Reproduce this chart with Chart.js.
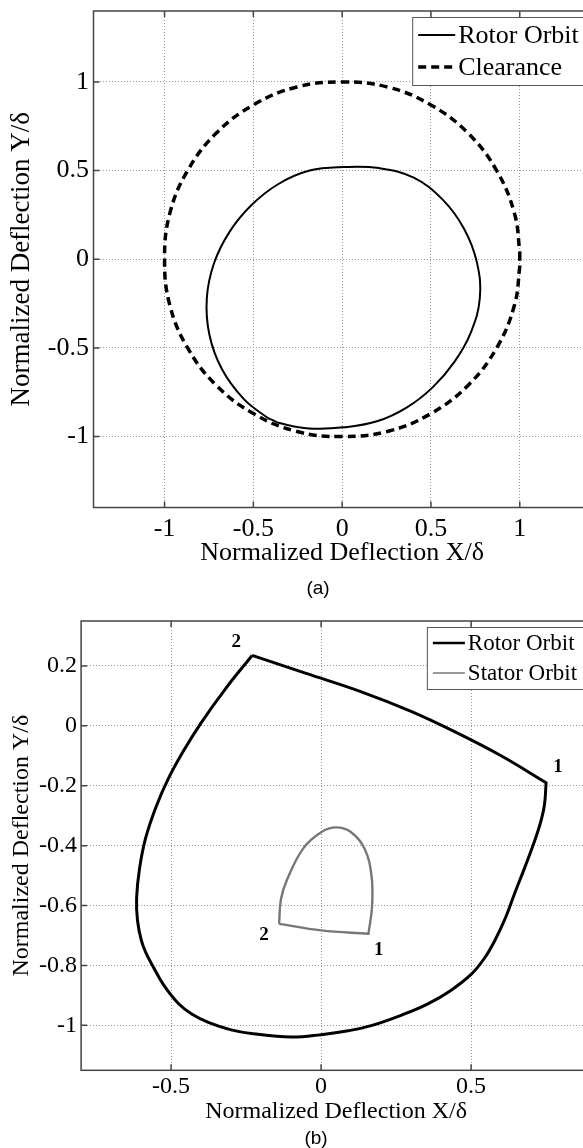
<!DOCTYPE html>
<html>
<head>
<meta charset="utf-8">
<script src="https://cdn.jsdelivr.net/npm/chart.js@4.4.0/dist/chart.umd.min.js"></script>
<style>
  html, body { margin: 0; padding: 0; background: #fff; overflow: hidden; }
  body { width: 583px; height: 1148px; position: relative; }
  .box { position: absolute; left: 0; width: 620px; }
  #boxA { top: 0; height: 600px; }
  #boxB { top: 600px; height: 548px; }
  .cap { position: absolute; width: 60px; margin-left: -30px; text-align: center;
         font-family: "Liberation Sans", Arial, sans-serif; font-size: 19px; line-height: 20px; z-index: 2; }
</style>
</head>
<body>
<div class="box" id="boxA"><canvas id="chartA" width="620" height="600"></canvas></div>
<div class="box" id="boxB"><canvas id="chartB" width="620" height="548"></canvas></div>
<div class="cap" style="left:318px; top:578px;">(a)</div>
<div class="cap" style="left:316px; top:1128px;">(b)</div>
<script>
// (a) rotor orbit and clearance circle, normalized X/delta and Y/delta
const rotorAX = [-0.388, -0.352, -0.187, 0.01, 0.196, 0.365, 0.511, 0.632, 0.725, 0.775, 0.759, 0.687, 0.566, 0.403, 0.207, 0.01, -0.183, -0.361, -0.513, -0.635, -0.722, -0.762, -0.748, -0.678, -0.556, -0.424, -0.388];
const rotorAY = [-0.909, -0.924, -0.954, -0.948, -0.914, -0.835, -0.721, -0.579, -0.412, -0.22, -0.019, 0.171, 0.336, 0.46, 0.514, 0.52, 0.5, 0.423, 0.303, 0.153, -0.024, -0.22, -0.423, -0.618, -0.786, -0.891, -0.909];
const clearX = [1, 0.999, 0.97, 0.87, 0.71, 0.5, 0.26, 0, -0.26, -0.5, -0.71, -0.87, -0.97, -1, -0.97, -0.87, -0.71, -0.5, -0.26, 0, 0.26, 0.5, 0.71, 0.87, 0.97, 0.999, 1];
const clearY = [0, 0.05, 0.26, 0.5, 0.71, 0.87, 0.97, 1, 0.97, 0.87, 0.71, 0.5, 0.26, 0, -0.26, -0.5, -0.71, -0.87, -0.97, -1, -0.97, -0.87, -0.71, -0.5, -0.26, -0.05, 0];
const ticksA = [-1, -0.5, 0, 0.5, 1];

// (b) rotor and stator orbits (corner point 1 listed twice so the line keeps its corner)
const rotorBX = [-0.23, -0.05, 0.13, 0.3, 0.45, 0.6, 0.75, 0.75, 0.745, 0.735, 0.716, 0.68, 0.645, 0.615, 0.58, 0.545, 0.5, 0.43, 0.356, 0.27, 0.17, 0.09, 0.0, -0.1, -0.227, -0.3, -0.376, -0.43, -0.475, -0.525, -0.562, -0.583, -0.599, -0.612, -0.615, -0.605, -0.585, -0.55, -0.51, -0.46, -0.4, -0.32, -0.23];
const rotorBY = [0.235, 0.175, 0.115, 0.048, -0.022, -0.1, -0.19, -0.19, -0.26, -0.31, -0.372, -0.47, -0.56, -0.64, -0.715, -0.775, -0.83, -0.885, -0.928, -0.965, -1.0, -1.018, -1.031, -1.039, -1.028, -1.015, -0.99, -0.963, -0.928, -0.865, -0.8, -0.76, -0.717, -0.65, -0.575, -0.475, -0.375, -0.27, -0.178, -0.086, 0.01, 0.122, 0.235];
const statorBX = [-0.14, -0.134, -0.115, -0.06, 0.0, 0.05, 0.1, 0.145, 0.168, 0.17, 0.158, 0.158, 0.0, -0.14];
const statorBY = [-0.661, -0.58, -0.517, -0.41, -0.355, -0.339, -0.355, -0.41, -0.5, -0.6, -0.694, -0.694, -0.683, -0.661];
const ticksBX = [-0.5, 0, 0.5];
const ticksBY = [0.2, 0, -0.2, -0.4, -0.6, -0.8, -1];
// point labels 1 / 2 on the orbits
const markText = ['2', '1', '2', '1'];
const markX = [-0.283, 0.79, -0.19, 0.192];
const markY = [0.278, -0.139, -0.70, -0.75];

function pts(xs, ys) {
    return xs.map((x, i) => ({x: x, y: ys[i]}));
}

const serif = '"Liberation Serif", "Times New Roman", serif';

// box round the plot with small inward ticks, like matlab
const framePlugin = {
    id: 'frame',
    beforeDatasetsDraw(chart) {
        const ctx = chart.ctx, a = chart.chartArea, sx = chart.scales.x, sy = chart.scales.y;
        ctx.save();
        ctx.strokeStyle = '#444';
        ctx.lineWidth = 1.5;
        ctx.strokeRect(a.left, a.top, a.right - a.left, a.bottom - a.top);
        ctx.beginPath();
        sx.ticks.forEach(t => {
            const px = sx.getPixelForValue(t.value);
            ctx.moveTo(px, a.bottom); ctx.lineTo(px, a.bottom - 6);
            ctx.moveTo(px, a.top); ctx.lineTo(px, a.top + 6);
        });
        sy.ticks.forEach(t => {
            const py = sy.getPixelForValue(t.value);
            ctx.moveTo(a.left, py); ctx.lineTo(a.left + 6, py);
            ctx.moveTo(a.right, py); ctx.lineTo(a.right - 6, py);
        });
        ctx.stroke();
        ctx.restore();
    }
};

// legend in a box at the top right corner of the plot
const boxLegend = {
    id: 'boxLegend',
    afterDatasetsDraw(chart, args, o) {
        const ctx = chart.ctx, a = chart.chartArea;
        const sets = chart.data.datasets;
        ctx.save();
        ctx.font = o.font;
        let tw = 0;
        sets.forEach(d => { tw = Math.max(tw, ctx.measureText(d.label).width); });
        const w = o.padL + o.sample + o.gap + tw + o.padR;
        const h = sets.length * o.rowH + 2 * o.padV;
        const right = a.right - o.inset, top = a.top + o.inset, left = right - w;
        ctx.fillStyle = '#fff';
        ctx.fillRect(left, top, w, h);
        ctx.strokeStyle = '#555';
        ctx.lineWidth = 1;
        ctx.strokeRect(left + 0.5, top + 0.5, w, h);
        sets.forEach((d, i) => {
            const y = top + o.padV + o.rowH * (i + 0.5);
            ctx.beginPath();
            ctx.strokeStyle = d.borderColor;
            ctx.lineWidth = d.legendWidth || d.borderWidth;
            ctx.setLineDash(d.borderDash || []);
            ctx.moveTo(left + o.padL, y);
            ctx.lineTo(left + o.padL + o.sample, y);
            ctx.stroke();
            ctx.setLineDash([]);
            ctx.fillStyle = '#000';
            ctx.textAlign = 'left';
            ctx.textBaseline = 'middle';
            ctx.fillText(d.label, left + o.padL + o.sample + o.gap, y + 1);
        });
        ctx.restore();
    }
};

const marksPlugin = {
    id: 'marks',
    afterDatasetsDraw(chart) {
        const ctx = chart.ctx, sx = chart.scales.x, sy = chart.scales.y;
        ctx.save();
        ctx.font = 'bold 19px ' + serif;
        ctx.fillStyle = '#000';
        ctx.textAlign = 'center';
        ctx.textBaseline = 'middle';
        markText.forEach((s, i) => {
            ctx.fillText(s, sx.getPixelForValue(markX[i]), sy.getPixelForValue(markY[i]));
        });
        ctx.restore();
    }
};

function axis(min, max, step, fontSize, title, titleSize, titlePad, tickPad, fixed, list) {
    return {
        type: 'linear',
        min: min, max: max,
        afterBuildTicks: s => { s.ticks = list.map(v => ({value: v})); },
        ticks: {
            stepSize: step, includeBounds: false, padding: tickPad,
            color: '#000', font: {family: serif, size: fontSize},
            callback: v => String(v)
        },
        grid: {color: '#999', lineWidth: 1, drawTicks: false},
        border: {display: false, dash: [1, 2]},
        title: {display: true, text: title, color: '#000', padding: titlePad,
                font: {family: serif, size: titleSize}},
        afterFit: s => {
            if (s.isHorizontal()) { s.height = fixed; s.paddingLeft = 0; s.paddingRight = 0; }
            else { s.width = fixed; s.paddingTop = 0; s.paddingBottom = 0; }
        }
    };
}

new Chart(document.getElementById('chartA'), {
    type: 'scatter',
    data: {
        datasets: [{
            label: 'Rotor Orbit',
            data: pts(rotorAX, rotorAY),
            showLine: true, borderColor: '#000', borderWidth: 2,
            pointRadius: 0, tension: 0.4, fill: false
        }, {
            label: 'Clearance',
            data: pts(clearX, clearY),
            showLine: true, borderColor: '#000', borderWidth: 3.5, borderDash: [8, 5],
            pointRadius: 0, tension: 0.4, fill: false
        }]
    },
    options: {
        responsive: false, animation: false, devicePixelRatio: 1, events: [],
        layout: {padding: {left: 0, top: 11, right: 29.2, bottom: 0}},
        scales: {
            x: axis(-1.4, 1.4, 0.5, 26, 'Normalized Deflection X/\u03b4', 26, {top: 0, bottom: 31.4}, 6, 92.5, ticksA),
            y: axis(-1.4, 1.4, 0.5, 26, 'Normalized Deflection Y/\u03b4', 27, {top: 5.8, bottom: 0}, 4.5, 93.5, ticksA)
        },
        plugins: {
            legend: {display: false}, tooltip: {enabled: false},
            boxLegend: {font: '26px ' + serif, rowH: 32, padV: 2, inset: 6, padL: 6, sample: 37, gap: 3, padR: 6}
        }
    },
    plugins: [framePlugin, boxLegend]
});

new Chart(document.getElementById('chartB'), {
    type: 'scatter',
    data: {
        datasets: [{
            label: 'Rotor Orbit',
            data: pts(rotorBX, rotorBY),
            showLine: true, borderColor: '#000', borderWidth: 3, legendWidth: 2.5,
            pointRadius: 0, tension: 0.4, fill: false
        }, {
            label: 'Stator Orbit',
            data: pts(statorBX, statorBY),
            showLine: true, borderColor: '#777', borderWidth: 2.4, legendWidth: 1.5,
            pointRadius: 0, tension: 0.4, fill: false
        }]
    },
    options: {
        responsive: false, animation: false, devicePixelRatio: 1, events: [],
        layout: {padding: {left: 0, top: 21, right: 28.9, bottom: 0}},
        scales: {
            x: axis(-0.8, 0.9, 0.5, 24, 'Normalized Deflection X/\u03b4', 24, {top: 0, bottom: 21.6}, 2, 77.7, ticksBX),
            y: axis(-1.15, 0.35, 0.2, 24, 'Normalized Deflection Y/\u03b4', 24, {top: 7.6, bottom: 0}, 4, 81.1, ticksBY)
        },
        plugins: {
            legend: {display: false}, tooltip: {enabled: false},
            boxLegend: {font: '23px ' + serif, rowH: 30, padV: 1, inset: 6, padL: 6, sample: 32, gap: 3, padR: 8}
        }
    },
    plugins: [framePlugin, boxLegend, marksPlugin]
});
</script>
</body>
</html>
